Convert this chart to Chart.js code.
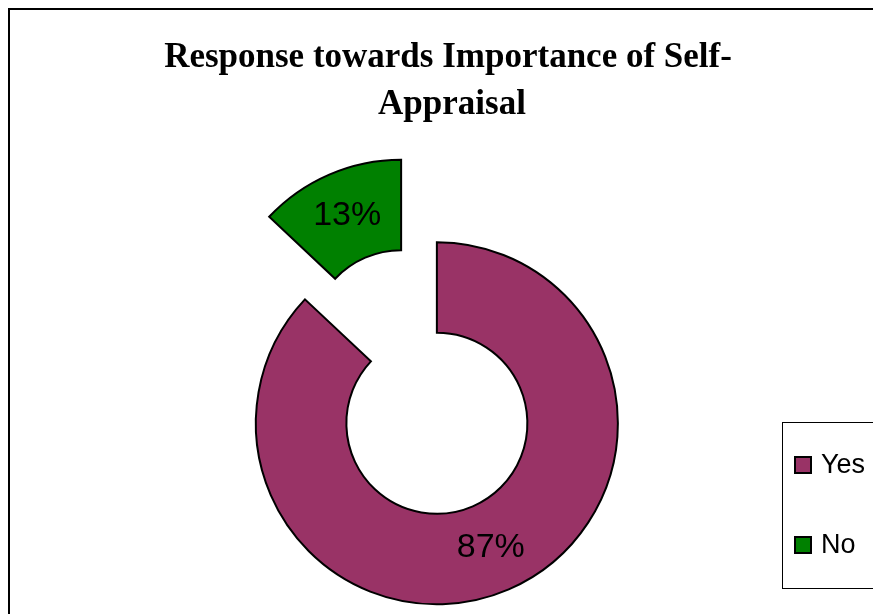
<!DOCTYPE html>
<html>
<head>
<meta charset="utf-8">
<script src="https://cdn.jsdelivr.net/npm/chart.js@4.4.0/dist/chart.umd.min.js"></script>
<style>
    html, body { margin: 0; padding: 0; background: #fff; overflow: hidden; }
    #wrap { position: relative; width: 873px; height: 614px; }
    #frame { position: absolute; left: 8px; top: 8px; width: 900px; height: 700px; border: 2px solid #000; box-sizing: border-box; }
    canvas { position: absolute; left: 0; top: 0; }
</style>
</head>
<body>
<div id="wrap">
    <div id="frame"></div>
    <canvas id="pieChart" width="873" height="614"></canvas>
</div>
<script>
const titleLines = ['Response towards Importance of Self-', 'Appraisal'];
const categories = ['Yes', 'No'];
const shares = [87, 13];
const sliceColors = ['#993366', '#008000'];
// how far each slice is pulled out from the centre, in px
const explode = [45, 45];

function sliceShift(arc, i) {
    const half = (arc.startAngle + arc.endAngle) / 2;
    return { x: Math.cos(half) * explode[i], y: Math.sin(half) * explode[i], half: half };
}

// draw the arcs ourselves so every slice moves out by the same distance
// without the built-in offset also growing the ring
const explodedSlices = {
    id: 'explodedSlices',
    beforeDatasetDraw(chart, args) {
        const ctx = chart.ctx;
        args.meta.data.forEach((arc, i) => {
            const s = sliceShift(arc, i);
            ctx.save();
            ctx.translate(s.x, s.y);
            arc.draw(ctx);
            ctx.restore();
        });
        return false;
    }
};

const decorations = {
    id: 'decorations',
    afterDraw(chart) {
        const ctx = chart.ctx;
        ctx.save();

        // title
        ctx.fillStyle = '#000';
        ctx.textAlign = 'center';
        ctx.textBaseline = 'alphabetic';
        ctx.font = 'bold 35px "Liberation Serif", "Times New Roman", serif';
        ctx.fillText(titleLines[0], 448, 67);
        ctx.fillText(titleLines[1], 452, 114);

        // percentage labels in the middle of each ring segment
        const meta = chart.getDatasetMeta(0);
        const total = shares.reduce((a, b) => a + b, 0);
        ctx.font = '34px "Liberation Sans", Arial, sans-serif';
        ctx.textBaseline = 'middle';
        meta.data.forEach((arc, i) => {
            const s = sliceShift(arc, i);
            const r = (arc.innerRadius + arc.outerRadius) / 2;
            const x = arc.x + s.x + Math.cos(s.half) * r;
            const y = arc.y + s.y + Math.sin(s.half) * r;
            ctx.fillText(Math.round(shares[i] / total * 100) + '%', x, y);
        });

        // legend box
        ctx.strokeStyle = '#000';
        ctx.lineWidth = 1;
        ctx.strokeRect(782.5, 422.5, 120, 166);
        ctx.font = '27px "Liberation Sans", Arial, sans-serif';
        ctx.textAlign = 'left';
        ctx.textBaseline = 'alphabetic';
        categories.forEach((c, i) => {
            const y = 457 + i * 80;
            ctx.fillStyle = sliceColors[i];
            ctx.fillRect(795, y, 16, 16);
            ctx.lineWidth = 2;
            ctx.strokeRect(795, y, 16, 16);
            ctx.fillStyle = '#000';
            ctx.fillText(c, 821, y + 16);
        });
        ctx.restore();
    }
};

new Chart(document.getElementById('pieChart'), {
    type: 'doughnut',
    data: {
        labels: categories,
        datasets: [{
            data: shares,
            backgroundColor: sliceColors,
            borderColor: '#000',
            borderWidth: 2,
            borderJoinStyle: 'miter',
            hoverOffset: 0,
            radius: 181
        }]
    },
    options: {
        responsive: false,
        animation: false,
        events: [],
        cutout: '50%',
        layout: {
            padding: { left: 219, right: 254, top: 182, bottom: 32 }
        },
        plugins: {
            legend: { display: false },
            title: { display: false },
            tooltip: { enabled: false }
        }
    },
    plugins: [explodedSlices, decorations]
});
</script>
</body>
</html>
